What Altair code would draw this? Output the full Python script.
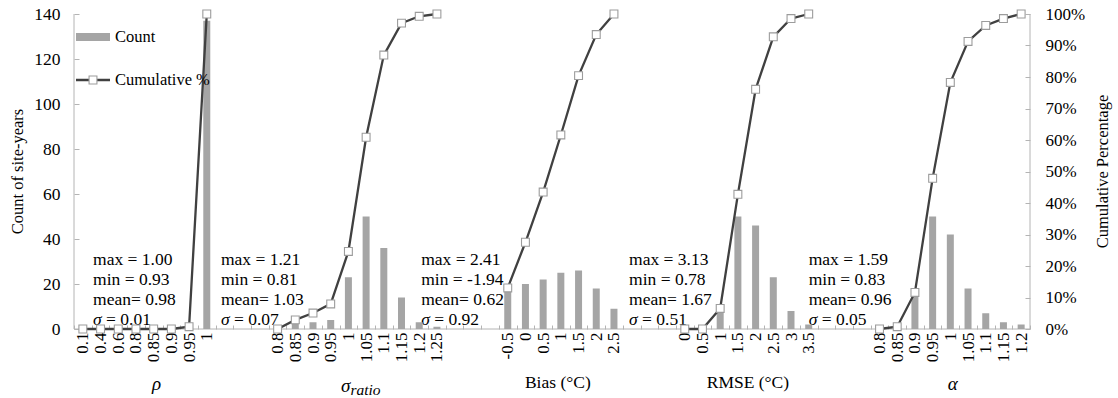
import altair as alt
import pandas as pd

# ---- histogram counts per metric (site-years per bin) ----
rho_labels = ["0.1", "0.4", "0.6", "0.8", "0.85", "0.9", "0.95", "1"]
rho_counts = [0, 0, 0, 0, 0, 0, 1, 137]

sigma_labels = ["0.8", "0.85", "0.9", "0.95", "1", "1.05", "1.1", "1.15", "1.2", "1.25"]
sigma_counts = [0, 4, 3, 4, 23, 50, 36, 14, 3, 1]

bias_labels = ["-0.5", "0", "0.5", "1", "1.5", "2", "2.5"]
bias_counts = [18, 20, 22, 25, 26, 18, 9]

rmse_labels = ["0", "0.5", "1", "1.5", "2", "2.5", "3", "3.5"]
rmse_counts = [0, 0, 9, 50, 46, 23, 8, 2]

alpha_labels = ["0.8", "0.85", "0.9", "0.95", "1", "1.05", "1.1", "1.15", "1.2"]
alpha_counts = [0, 1, 15, 50, 42, 18, 7, 3, 2]

# summary statistics printed inside each panel: max, min, mean, sigma
rho_stats = ["1.00", "0.93", "0.98", "0.01"]
sigma_stats = ["1.21", "0.81", "1.03", "0.07"]
bias_stats = ["2.41", "-1.94", "0.62", "0.92"]
rmse_stats = ["3.13", "0.78", "1.67", "0.51"]
alpha_stats = ["1.59", "0.83", "0.96", "0.05"]

GROUPS = [
    ("rho", rho_labels, rho_counts),
    ("sigma", sigma_labels, sigma_counts),
    ("bias", bias_labels, bias_counts),
    ("rmse", rmse_labels, rmse_counts),
    ("alpha", alpha_labels, alpha_counts),
]
GAP = 3  # empty category slots between metrics

W, H = 956, 315
SERIF = "Liberation Serif"
BAR = "#a5a5a5"
LINE = "#404040"
AXC = "#b4b4b4"
FS = 17.5

keys = []
rows = []
for gi, (g, labels, counts) in enumerate(GROUPS):
    if gi > 0:
        keys += [f"gap{gi}{j}|" for j in range(GAP)]
    total = sum(counts)
    running = 0
    for lab, c in zip(labels, counts):
        running += c
        k = f"{g}|{lab}"
        keys.append(k)
        rows.append({"key": k, "group": g, "count": c, "cum": running / total})
df = pd.DataFrame(rows)

x_enc = alt.X(
    "key:N",
    scale=alt.Scale(domain=keys, paddingInner=0, paddingOuter=0),
    axis=alt.Axis(
        title=None,
        labelExpr="split(datum.label, '|')[1]",
        labelAngle=270,
        labelFont=SERIF,
        labelFontSize=17,
        labelColor="black",
        labelPadding=3,
        labelOverlap=False,
        labelBound=False,
        tickBand="extent",
        tickSize=4,
        tickColor=AXC,
        offset=-4,
        domain=False,
    ),
)

y_count = alt.Y(
    "count:Q",
    scale=alt.Scale(domain=[0, 140]),
    axis=alt.Axis(
        orient="left",
        title=None,
        values=list(range(0, 141, 20)),
        labelFont=SERIF,
        labelFontSize=17.5,
        labelColor="black",
        labelPadding=14,
        tickSize=5,
        tickColor=AXC,
        offset=-5,
        domain=False,
        grid=False,
    ),
)

y_cum = alt.Y(
    "cum:Q",
    scale=alt.Scale(domain=[0, 1]),
    axis=alt.Axis(
        orient="right",
        title=None,
        format=".0%",
        values=[i / 10 for i in range(11)],
        labelFont=SERIF,
        labelFontSize=17,
        labelColor="black",
        labelPadding=15,
        tickSize=5,
        tickColor=AXC,
        offset=-5,
        domain=False,
        grid=False,
    ),
)

one = pd.DataFrame({"a": [0]})

# axis lines
frame = [
    alt.Chart(one).mark_rule(color=AXC, strokeWidth=1).encode(
        x=alt.value(0), y=alt.value(0), y2=alt.value(H)),
    alt.Chart(one).mark_rule(color=AXC, strokeWidth=1).encode(
        x=alt.value(W), y=alt.value(0), y2=alt.value(H)),
    alt.Chart(one).mark_rule(color=AXC, strokeWidth=1).encode(
        x=alt.value(0), x2=alt.value(W), y=alt.value(H)),
]

# vertical axis titles
axis_titles = [
    alt.Chart(one).mark_text(angle=270, align="center", baseline="alphabetic", font=SERIF,
                             fontSize=16.5, color="black").encode(
        x=alt.value(-51), y=alt.value(H / 2), text=alt.value("Count of site-years")),
    alt.Chart(one).mark_text(angle=270, align="center", baseline="alphabetic", font=SERIF,
                             fontSize=16.5, color="black").encode(
        x=alt.value(W + 78), y=alt.value(H / 2), text=alt.value("Cumulative Percentage")),
]

# statistics text blocks, anchored on a category slot
line_levels = [28.4, 19.5, 10.7, 1.8]  # baselines in count units
stat_blocks = [
    (keys[1], -7.5, rho_stats),
    (keys[8], -3.5, sigma_stats),
    (keys[19], 2, bias_stats),
    (keys[31], -2.6, rmse_stats),
    (keys[41], 0, alpha_stats),
]

text_layers = []
for key, dx, st in stat_blocks:
    tdf = pd.DataFrame({
        "key": [key] * 3,
        "count": line_levels[:3],
        "t": [f"max = {st[0]}", f"min = {st[1]}", f"mean= {st[2]}"],
    })
    text_layers.append(
        alt.Chart(tdf).mark_text(align="left", baseline="alphabetic", font=SERIF,
                                 fontSize=FS, color="black", dx=dx)
        .encode(x=x_enc, y=y_count, text="t:N"))
    sdf = pd.DataFrame({"key": [key], "count": [line_levels[3]], "t": ["σ"]})
    text_layers.append(
        alt.Chart(sdf).mark_text(align="left", baseline="alphabetic", font=SERIF,
                                 fontSize=FS, fontStyle="italic", color="black", dx=dx)
        .encode(x=x_enc, y=y_count, text="t:N"))
    vdf = pd.DataFrame({"key": [key], "count": [line_levels[3]], "t": [f"= {st[3]}"]})
    text_layers.append(
        alt.Chart(vdf).mark_text(align="left", baseline="alphabetic", font=SERIF,
                                 fontSize=FS, color="black", dx=dx + 13)
        .encode(x=x_enc, y=y_count, text="t:N"))

bars = alt.Chart(df).mark_bar(size=7, color=BAR).encode(x=x_enc, y=y_count)

left = alt.layer(*frame, *text_layers, bars)

line = alt.Chart(df).mark_line(color=LINE, strokeWidth=2.3).encode(
    x=x_enc, y=y_cum, detail="group:N")
pts = alt.Chart(df).mark_square(size=62, color="white", stroke="#9c9c9c",
                                strokeWidth=1.1, opacity=1).encode(x=x_enc, y=y_cum)
right = alt.layer(line, pts)

# metric names beneath the category labels
titles = [
    (keys[4], 3, "ρ", "italic", 19, H + 61, "center"),
    (keys[15], 2, "σ", "italic", 19, H + 63, "right"),
    (keys[15], 2, "ratio", "italic", 15.5, H + 66, "left"),
    (keys[27], -3, "Bias (°C)", "normal", FS, H + 59, "center"),
    (keys[37], 10, "RMSE (°C)", "normal", FS, H + 59, "center"),
    (keys[49], 2.5, "α", "italic", 19, H + 61, "center"),
]
title_layers = []
for key, dx, txt, style, size, ypix, al in titles:
    tdf = pd.DataFrame({"key": [key], "t": [txt]})
    title_layers.append(
        alt.Chart(tdf).mark_text(align=al, baseline="alphabetic", font=SERIF,
                                 fontSize=size, fontStyle=style, color="black", dx=dx)
        .encode(x=x_enc, y=alt.value(ypix), text="t:N"))

# legend
legend = [
    alt.Chart(one).mark_rule(color=BAR, strokeWidth=8).encode(
        x=alt.value(2), x2=alt.value(36), y=alt.value(23)),
    alt.Chart(one).mark_text(align="left", baseline="middle", font=SERIF, fontSize=16.5,
                             color="black").encode(
        x=alt.value(41), y=alt.value(23), text=alt.value("Count")),
    alt.Chart(one).mark_rule(color=LINE, strokeWidth=2.3).encode(
        x=alt.value(2), x2=alt.value(36), y=alt.value(66)),
    alt.Chart(one).mark_square(size=62, color="white", stroke="#9c9c9c", strokeWidth=1.1,
                               opacity=1).encode(x=alt.value(19), y=alt.value(66)),
    alt.Chart(one).mark_text(align="left", baseline="middle", font=SERIF, fontSize=16.5,
                             color="black").encode(
        x=alt.value(41), y=alt.value(66), text=alt.value("Cumulative %")),
]

chart = (
    alt.layer(left, right, *title_layers, *axis_titles, *legend)
    .resolve_scale(y="independent")
    .properties(
        width=W,
        height=H,
        padding={"left": 74, "top": 14, "right": 88, "bottom": 69},
        autosize=alt.AutoSizeParams(type="none"),
        background="white",
    )
    .configure_view(stroke=None)
)

chart.save("out.html", embed_options={"renderer": "svg", "actions": False})
